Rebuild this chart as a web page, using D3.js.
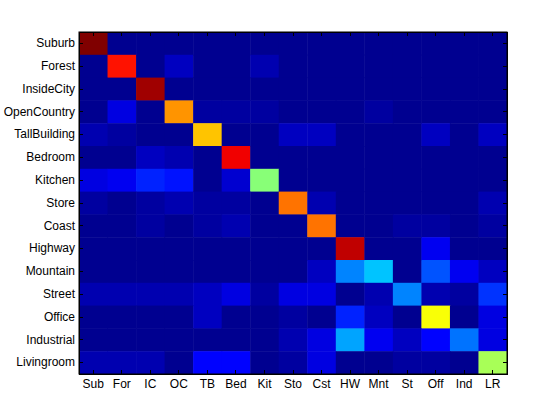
<!DOCTYPE html>
<html lang="en">
<head>
<meta charset="utf-8">
<title>Confusion matrix</title>
<style>
  body { margin: 0; background: #fff; font-family: "Liberation Sans", Arial, sans-serif; }
  svg { display: block; }
  .axis text { font-size: 12px; fill: #000; font-family: "Liberation Sans", Arial, sans-serif; }
  .axis path, .axis line { stroke: #000; shape-rendering: crispEdges; }
</style>
<script src="https://cdn.jsdelivr.net/npm/d3@7"></script>
</head>
<body>
<script>
var rowNames = ["Suburb","Forest","InsideCity","OpenCountry","TallBuilding","Bedroom","Kitchen",
                "Store","Coast","Highway","Mountain","Street","Office","Industrial","Livingroom"];
var colNames = ["Sub","For","IC","OC","TB","Bed","Kit","Sto","Cst","HW","Mnt","St","Off","Ind","LR"];

// one array per true class (row), predicted class across
var suburb      = [0.99,0.01,0.01,0.01,0.01,0.01,0.01,0.01,0.01,0.01,0.01,0.01,0.01,0.01,0.01];
var forest      = [0.02,0.85,0.01,0.06,0.01,0.02,0.05,0.01,0.01,0.01,0.01,0.01,0.01,0.01,0.01];
var insideCity  = [0.01,0.01,0.96,0.01,0.01,0.01,0.01,0.01,0.01,0.01,0.01,0.01,0.01,0.01,0.01];
var openCountry = [0.015,0.09,0.02,0.72,0.03,0.03,0.03,0.02,0.02,0.01,0.03,0.01,0.01,0.01,0.02];
var tallBuilding= [0.05,0.03,0.02,0.02,0.67,0.01,0.01,0.06,0.06,0.01,0.01,0.01,0.06,0.01,0.07];
var bedroom     = [0.015,0.015,0.07,0.05,0.02,0.875,0.02,0.01,0.01,0.01,0.01,0.01,0.01,0.01,0.01];
var kitchen     = [0.10,0.11,0.15,0.14,0.02,0.08,0.50,0.01,0.01,0.01,0.01,0.01,0.01,0.01,0.01];
var store       = [0.03,0.02,0.03,0.045,0.03,0.025,0.02,0.76,0.05,0.01,0.01,0.01,0.01,0.01,0.05];
var coast       = [0.02,0.02,0.03,0.02,0.03,0.04,0.02,0.02,0.76,0.02,0.01,0.03,0.03,0.02,0.03];
var highway     = [0.01,0.01,0.01,0.01,0.01,0.01,0.01,0.01,0.01,0.93,0.01,0.01,0.11,0.01,0.01];
var mountain    = [0.01,0.01,0.01,0.01,0.01,0.01,0.01,0.02,0.06,0.25,0.32,0.01,0.21,0.11,0.06];
var street      = [0.05,0.05,0.04,0.045,0.065,0.10,0.03,0.10,0.09,0.01,0.05,0.25,0.04,0.03,0.165];
var office      = [0.015,0.015,0.015,0.015,0.06,0.015,0.015,0.025,0.01,0.15,0.06,0.02,0.62,0.01,0.09];
var industrial  = [0.01,0.01,0.01,0.01,0.01,0.01,0.01,0.04,0.09,0.29,0.11,0.06,0.12,0.23,0.09];
var livingroom  = [0.05,0.04,0.04,0.02,0.12,0.12,0.02,0.03,0.10,0.02,0.02,0.03,0.03,0.02,0.53];

var matrix = [suburb,forest,insideCity,openCountry,tallBuilding,bedroom,kitchen,
              store,coast,highway,mountain,street,office,industrial,livingroom];

var margin = {top: 32, left: 79},
    width = 428, height = 342;

var svg = d3.select("body").append("svg")
    .attr("width", 560)
    .attr("height", 420);

var g = svg.append("g")
    .attr("transform", "translate(" + margin.left + "," + margin.top + ")");

var x = d3.scaleBand().domain(colNames).range([0, width]);
var y = d3.scaleBand().domain(rowNames).range([0, height]);

// matlab style jet, 64 levels
function jet(t) {
  t = Math.max(0, Math.min(1, t));
  t = Math.round(t * 63) / 63;
  function ch(v) { return Math.max(0, Math.min(1, 1.5 - Math.abs(4 * v))); }
  var r = ch(t - 0.75), gg = ch(t - 0.5), b = ch(t - 0.25);
  return d3.rgb(r * 255, gg * 255, b * 255);
}
var color = d3.scaleLinear().domain([0, d3.max(matrix, function(r){ return d3.max(r); })]).range([0, 1]);

var cells = [];
matrix.forEach(function(row, i) {
  row.forEach(function(v, j) {
    cells.push({r: rowNames[i], c: colNames[j], v: v});
  });
});

g.selectAll("rect.cell")
  .data(cells)
  .enter().append("rect")
  .attr("class", "cell")
  .attr("x", function(d){ return x(d.c); })
  .attr("y", function(d){ return y(d.r); })
  .attr("width", x.bandwidth() + 0.5)
  .attr("height", y.bandwidth() + 0.5)
  .attr("fill", function(d){ return jet(color(d.v)); });

// axes, ticks pointing inwards like matlab
g.append("g").attr("class", "axis")
  .call(d3.axisLeft(y).tickSizeInner(-4).tickSizeOuter(0).tickPadding(4));
g.append("g").attr("class", "axis")
  .attr("transform", "translate(0," + height + ")")
  .call(d3.axisBottom(x).tickSizeInner(-4).tickSizeOuter(0).tickPadding(5));
g.append("g").attr("class", "axis")
  .attr("transform", "translate(" + width + ",0)")
  .call(d3.axisRight(y).tickSizeInner(-4).tickSizeOuter(0).tickFormat(""));
g.append("g").attr("class", "axis")
  .call(d3.axisTop(x).tickSizeInner(-4).tickSizeOuter(0).tickFormat(""));

g.append("rect")
  .attr("width", width).attr("height", height)
  .attr("fill", "none").attr("stroke", "#000");
</script>
</body>
</html>
